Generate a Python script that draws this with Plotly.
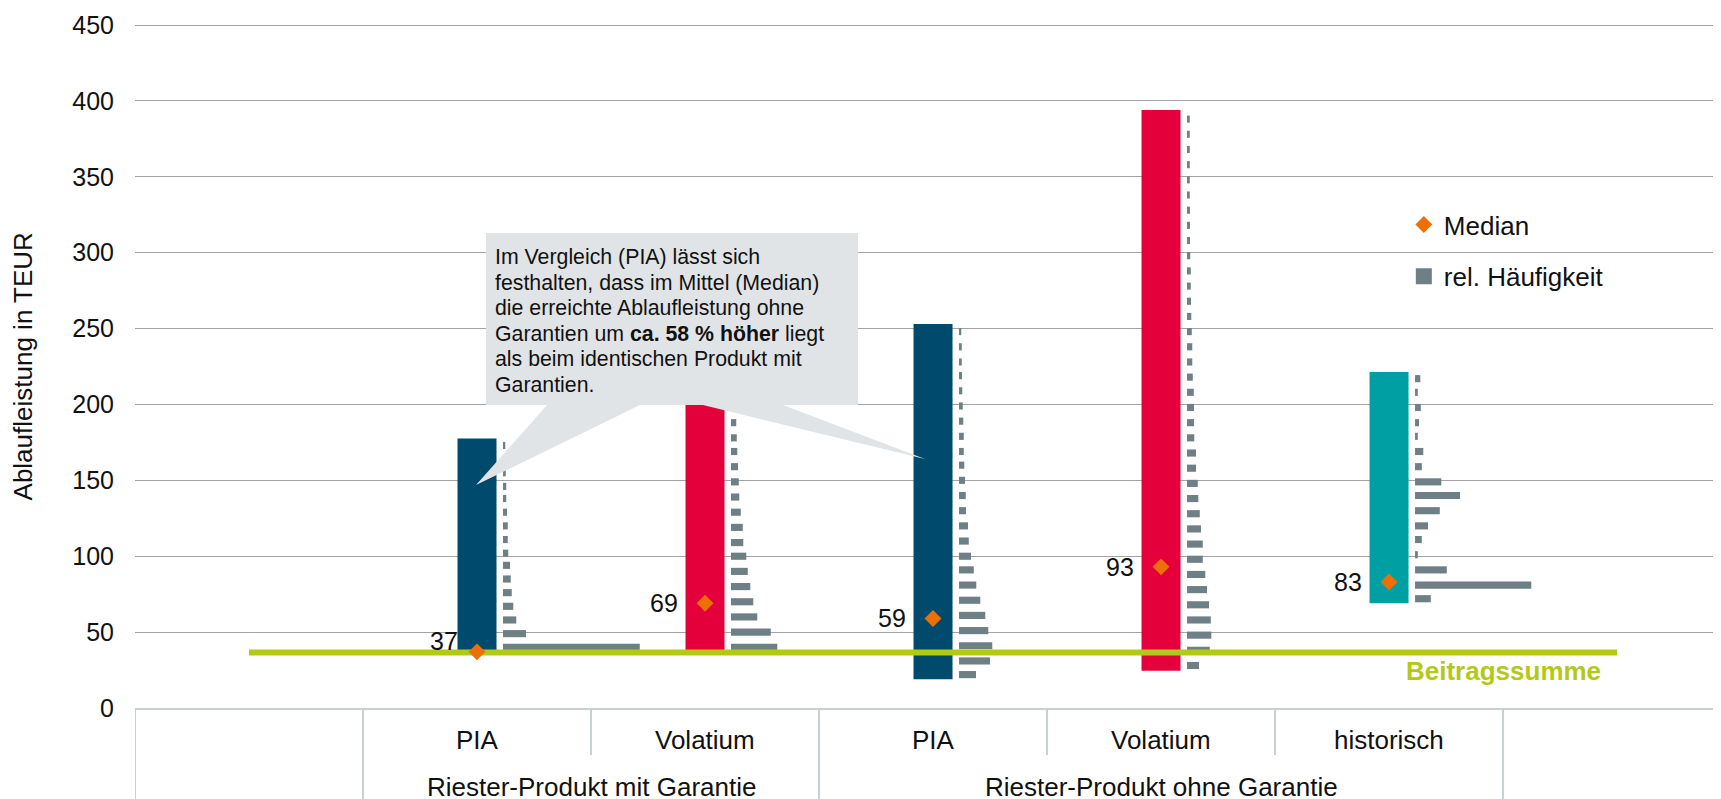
import plotly.graph_objects as go

# categories along the x axis (first and last slot are empty)
categories = ["", "PIA", "Volatium", "PIA", "Volatium", "historisch", ""]
groups = ["Riester-Produkt mit Garantie", "Riester-Produkt ohne Garantie"]

# min / max of the simulated Ablaufleistung (TEUR)
range_min = [37, 37, 19, 24.6, 69]
range_max = [177.5, 215, 253, 394, 221.4]
medians = [37, 69, 59, 93, 83]
beitragssumme = 36.5

# relative frequencies (%) per bin, bins given by their centre (TEUR)
bins_pia_mit = [40, 49, 58, 67, 76, 85, 94, 102, 111, 120, 129, 138, 146, 155, 164, 173]
freq_pia_mit = [54.7, 9.2, 5.3, 4.1, 3.5, 3.1, 2.8, 2.1, 1.9, 1.9, 1.6, 1.3, 1.3, 1.1, 1.1, 0.9]

bins_vol_mit = [40, 50, 60, 70, 80, 90, 100, 109, 119, 129, 139, 149, 159, 169, 178, 188]
freq_vol_mit = [18.5, 15.9, 10.5, 8.9, 7.7, 6.7, 6.1, 4.9, 4.7, 3.9, 3.3, 3.1, 2.8, 2.5, 2.3, 2.1]

bins_pia_ohne = [22, 31, 41, 51, 61, 71, 81, 91, 100, 110, 120, 130, 140, 150, 160, 169,
                 179, 189, 199, 209, 219, 228, 238, 248]
freq_pia_ohne = [6.8, 12.4, 13.3, 11.7, 10.5, 8.5, 6.9, 5.9, 4.8, 3.9, 3.6, 2.8, 2.7, 2.4, 2.1, 1.9,
                 1.9, 1.7, 1.5, 1.3, 1.2, 1.1, 1.1, 0.9]

bins_vol_ohne = [28, 38, 48, 58, 68, 78, 88, 98, 108, 118, 128, 138, 148, 158, 168, 178, 188, 198,
                 208, 218, 228, 238, 248, 258, 268, 278, 288, 298, 308, 318, 328, 338, 348, 358,
                 368, 378, 388]
freq_vol_ohne = [4.8, 9.1, 9.7, 9.5, 8.8, 8.0, 7.3, 6.3, 6.3, 5.6, 5.1, 4.5, 4.3, 3.6, 3.6, 2.9, 2.8, 2.8,
                 2.7, 2.3, 2.1, 2.1, 1.9, 1.7, 1.6, 1.5, 1.5, 1.3, 1.2, 1.2, 1.2, 1.1, 1.1, 1.1,
                 1.1, 1.1, 1.1]

bins_hist = [72, 81, 91, 101, 111, 120, 130, 140, 149, 159, 169, 179, 188, 198, 208, 217]
freq_hist = [6.3, 46.5, 12.7, 1.1, 2.7, 5.2, 9.9, 18.0, 10.5, 2.7, 3.3, 1.1, 1.6, 2.3, 1.1, 2.1]

hist_bins = [bins_pia_mit, bins_vol_mit, bins_pia_ohne, bins_vol_ohne, bins_hist]
hist_freq = [freq_pia_mit, freq_vol_mit, freq_pia_ohne, freq_vol_ohne, freq_hist]

callout_lines = [
    "Im Vergleich (PIA) lässt sich",
    "festhalten, dass im Mittel (Median)",
    "die erreichte Ablaufleistung ohne",
    "Garantien um <b>ca. 58 % höher</b> liegt",
    "als beim identischen Produkt mit",
    "Garantien.",
]

bar_colors = ["#004A6D", "#E4003A", "#004A6D", "#E4003A", "#009FA3"]
HIST_COLOR = "#6E7F85"
GREEN = "#B3C918"
FONT = "Liberation Sans, Arial, sans-serif"
TXT = "#111111"

# pixel helpers (category width 228 px, 1.5178 px per TEUR)
CAT_PX = 228.0
PX_PER_UNIT = 1.5178
FREQ_SCALE = 2.5 / CAT_PX      # 1 % -> 2.5 px
BAR_W = 39 / CAT_PX
HIST_OFF = 26 / CAT_PX
PLOT_H = 686

prod_x = [i for i, c in enumerate(categories) if c]

fig = go.Figure()

fig.add_trace(go.Bar(
    x=prod_x, y=[hi - lo for lo, hi in zip(range_min, range_max)], base=range_min,
    width=BAR_W, marker=dict(color=bar_colors, line_width=0),
    showlegend=False, hoverinfo="skip"))

hx, hy, hb = [], [], []
for pos, bins, freq in zip(prod_x, hist_bins, hist_freq):
    for b, f in zip(bins, freq):
        hy.append(b)
        hx.append(f * FREQ_SCALE)
        hb.append(pos + HIST_OFF)
fig.add_trace(go.Bar(
    orientation="h", x=hx, y=hy, base=hb, width=4.7,
    marker=dict(color=HIST_COLOR, line_width=0),
    showlegend=False, hoverinfo="skip"))

fig.add_trace(go.Scatter(
    x=list(range(len(categories))), y=[beitragssumme] * len(categories),
    mode="lines", line=dict(color=GREEN, width=6),
    showlegend=False, hoverinfo="skip"))

fig.add_trace(go.Scatter(
    x=prod_x, y=medians, mode="markers",
    marker=dict(symbol="diamond", size=13, color="#ED7004"),
    name="Median", legendgroup="m", legendrank=1, hoverinfo="skip"))

# legend entry for the histogram bins (square swatch)
fig.add_trace(go.Scatter(
    x=[None], y=[None], mode="markers",
    marker=dict(symbol="square", size=16, color=HIST_COLOR),
    name="rel. Häufigkeit", legendgroup="h", legendrank=2, hoverinfo="skip"))

annotations = []
# median labels
for i, (pos, m) in enumerate(zip(prod_x, medians)):
    annotations.append(dict(
        x=pos, y=m, text=str(m), showarrow=False, xanchor="right", yanchor="middle",
        xshift=-17 if i == 0 else -25, yshift=11 if i == 0 else 0,
        font=dict(size=25, color=TXT, family=FONT)))

# category and group labels
for pos in prod_x:
    annotations.append(dict(
        x=pos, y=0, yref="paper", text=categories[pos], showarrow=False,
        yanchor="middle", yshift=-32, font=dict(size=26, color=TXT, family=FONT)))
for gx, g in zip([1.5, 4.0], groups):
    annotations.append(dict(
        x=gx, y=0, yref="paper", text=g, showarrow=False,
        yanchor="middle", yshift=-79, font=dict(size=26, color=TXT, family=FONT)))

annotations.append(dict(
    x=-0.0703, y=225 / 452, xref="paper", yref="paper", text="Ablaufleistung in TEUR",
    textangle=-90, showarrow=False, xanchor="center", yanchor="middle",
    font=dict(size=26, color=TXT, family=FONT)))

annotations.append(dict(
    x=len(categories) - 1, y=beitragssumme, text="<b>Beitragssumme</b>", showarrow=False,
    xanchor="right", yanchor="middle", xshift=-14, yshift=-18,
    font=dict(size=26, color=GREEN, family=FONT)))

# callout text, one annotation per line to control the line spacing
for k, line in enumerate(callout_lines):
    annotations.append(dict(
        x=(494 - 135) / CAT_PX - 0.5, y=(708 - (257 + 25.5 * k)) / PX_PER_UNIT,
        text=line, showarrow=False, xanchor="left", yanchor="middle", borderpad=0,
        font=dict(size=21.3, color=TXT, family=FONT)))

shapes = []
# callout box with two pointers
callout = ("M1.0395,312.95 L2.671,312.95 L2.671,199.6 L2.342,199.6 L2.965,164.1 "
           "L1.991,199.6 L1.715,199.6 L0.9956,146.9 L1.307,199.6 L1.0395,199.6 Z")
shapes.append(dict(type="path", path=callout, xref="x", yref="y",
                   fillcolor="#E1E4E6", line=dict(width=0), layer="above"))

# category separators below the axis
for sx in [-0.5, 0.5, 2.5, 5.5]:
    shapes.append(dict(type="line", xref="x", yref="paper", x0=sx, x1=sx, y0=0, y1=-99 / PLOT_H,
                       line=dict(color="#C9D0D4", width=2)))
for sx in [1.5, 3.5, 4.5]:
    shapes.append(dict(type="line", xref="x", yref="paper", x0=sx, x1=sx, y0=0, y1=-47 / PLOT_H,
                       line=dict(color="#C9D0D4", width=2)))

fig.update_layout(
    width=1721, height=799,
    margin=dict(l=127, r=0, t=799 - 99 - PLOT_H, b=99),
    paper_bgcolor="white", plot_bgcolor="white",
    barmode="overlay",
    font=dict(family=FONT, color=TXT, size=25),
    annotations=annotations, shapes=shapes,
    legend=dict(x=0.796, y=0.739, xanchor="left", yanchor="top",
                traceorder="grouped", tracegroupgap=15,
                font=dict(size=26, color=TXT, family=FONT), bgcolor="rgba(0,0,0,0)"),
)
fig.update_xaxes(range=[-0.5, 6.491], showticklabels=False, showgrid=False, zeroline=False,
                 showline=True, linecolor="#C9D0D4", linewidth=2, fixedrange=True)
fig.update_yaxes(range=[0, 452], tickvals=list(range(0, 451, 50)), showgrid=True,
                 gridcolor="#A3A3A3", gridwidth=1.3, zeroline=False, showline=False,
                 ticklabelstandoff=20, tickfont=dict(size=25, color=TXT, family=FONT),
                 fixedrange=True)

fig.write_html("out.html")
